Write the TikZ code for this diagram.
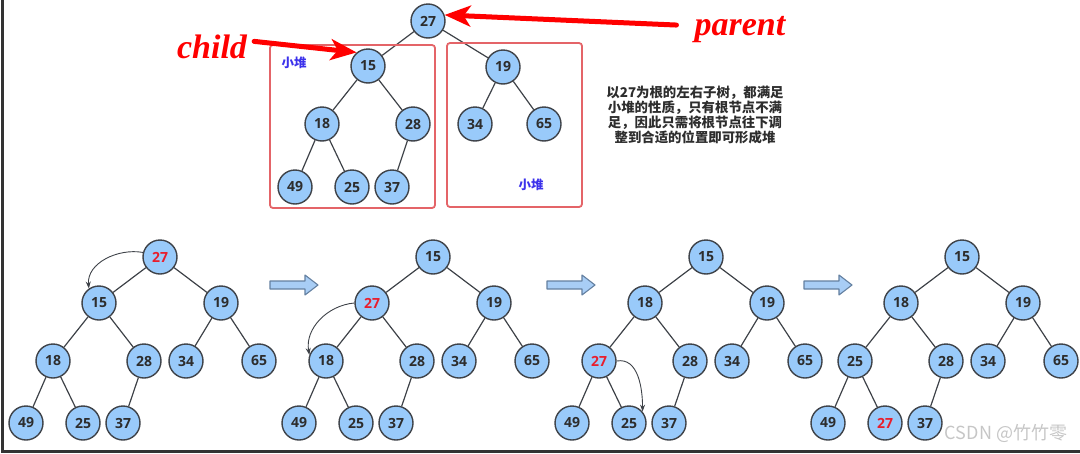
\documentclass[tikz,border=0pt]{standalone}
\usepackage{fontspec}
\setmainfont{Open Sans}
\newfontfamily\cjk{Noto Sans CJK SC}
\newfontfamily\tagfont{Liberation Serif}
\usetikzlibrary{arrows.meta}

\definecolor{keyfill}{RGB}{153,202,250}
\definecolor{keyedge}{RGB}{62,66,72}
\definecolor{hotred}{RGB}{232,30,45}
\definecolor{boxred}{RGB}{228,100,104}
\definecolor{heapblue}{RGB}{60,50,235}
\definecolor{notegray}{RGB}{45,45,45}
\definecolor{arrowfill}{RGB}{168,205,245}
\definecolor{arrowedge}{RGB}{100,128,160}
\newcommand{\hotkey}[1]{\textcolor{hotred}{#1}}

\begin{document}
\begin{tikzpicture}[
    x=1pt, y=-1pt,
    key/.style={circle, draw=keyedge, fill=keyfill, line width=1.4pt, minimum size=34pt, inner sep=0pt, text=notegray, font=\bfseries\fontsize{14}{14}\selectfont},
    link/.style={draw=keyedge, line width=1.2pt},
    swap/.style={-{Stealth[length=7pt,width=5pt]}, draw=keyedge, line width=0.9pt},
    tag/.style={text=red, inner sep=0pt, font=\tagfont\bfseries\itshape\fontsize{34}{34}\selectfont},
    redarr/.style={-{Stealth[length=26pt,width=21pt,inset=7pt]}, draw=red, line width=5pt, line cap=round},
    heapbox/.style={draw=boxred, line width=1.8pt, rounded corners=3pt},
    heaplbl/.style={text=heapblue, font=\cjk\bfseries\fontsize{12.5}{12.5}\selectfont},
    steparrow/.style={draw=arrowedge, fill=arrowfill, line width=1.1pt, line join=round},
    frame/.style={draw=black!80, line width=3pt}
]
\useasboundingbox (0,0) rectangle (1080,453);
\draw[frame] (2.5,0) -- (2.5,451) -- (1080,451);

% Starting tree
\node[key] (p27) at (428,21) {27};
\node[key] (p15) at (368,66) {15};
\node[key] (p19) at (503,67) {19};
\node[key] (p18) at (322,124) {18};
\node[key] (p28) at (413,124) {28};
\node[key] (p34) at (475,124) {34};
\node[key] (p65) at (544,124) {65};
\node[key] (p49) at (295,187) {49};
\node[key] (p25) at (352,187) {25};
\node[key] (p37) at (392,187) {37};
\draw[link] (p27) -- (p15);
\draw[link] (p27) -- (p19);
\draw[link] (p15) -- (p18);
\draw[link] (p15) -- (p28);
\draw[link] (p19) -- (p34);
\draw[link] (p19) -- (p65);
\draw[link] (p18) -- (p49);
\draw[link] (p18) -- (p25);
\draw[link] (p28) -- (p37);

% Sub-heaps
\draw[heapbox] (270,45) rectangle (435,208);
\draw[heapbox] (447,43) rectangle (582,207);
\node[heaplbl] (leftlbl) at (294,63) {小堆};
\node[heaplbl] (rightlbl) at (531,185) {小堆};

\node[tag, anchor=base] (child) at (212,58) {child};
\node[tag, anchor=base] (parent) at (740,35) {parent};
\draw[redarr] ([xshift=7pt,yshift=5pt]child.east) -- (p15.130);
\draw[redarr] ([xshift=-18pt,yshift=4pt]parent.west) -- (p27.20);

\node[text=notegray, align=center, font=\cjk\bfseries\fontsize{13.4}{15.3}\selectfont] (note) at (695,115)
  {以27为根的左右子树，都满足\\小堆的性质，只有根节点不满\\足，因此只需将根节点往下调\\整到合适的位置即可形成堆};

% Sift-down steps
\foreach \tr/\rx/\va/\vb/\vc/\vd/\ve/\vf/\vg/\vh/\vi/\vj in {
    1/160/\hotkey{27}/15/19/18/28/34/65/49/25/37,
    2/433/15/\hotkey{27}/19/18/28/34/65/49/25/37,
    3/706/15/18/19/\hotkey{27}/28/34/65/49/25/37,
    4/962/15/18/19/25/28/34/65/49/\hotkey{27}/37} {
  \node[key] (t\tr-1) at (\rx,257) {\va};
  \node[key] (t\tr-2) at (\rx-61,303) {\vb};
  \node[key] (t\tr-3) at (\rx+61,303) {\vc};
  \node[key] (t\tr-4) at (\rx-107,361) {\vd};
  \node[key] (t\tr-5) at (\rx-16,361) {\ve};
  \node[key] (t\tr-6) at (\rx+26,361) {\vf};
  \node[key] (t\tr-7) at (\rx+99,361) {\vg};
  \node[key] (t\tr-8) at (\rx-134,423) {\vh};
  \node[key] (t\tr-9) at (\rx-77,423) {\vi};
  \node[key] (t\tr-10) at (\rx-37,423) {\vj};
  \draw[link] (t\tr-1) -- (t\tr-2);
  \draw[link] (t\tr-1) -- (t\tr-3);
  \draw[link] (t\tr-2) -- (t\tr-4);
  \draw[link] (t\tr-2) -- (t\tr-5);
  \draw[link] (t\tr-3) -- (t\tr-6);
  \draw[link] (t\tr-3) -- (t\tr-7);
  \draw[link] (t\tr-4) -- (t\tr-8);
  \draw[link] (t\tr-4) -- (t\tr-9);
  \draw[link] (t\tr-5) -- (t\tr-10);
}
\draw[swap] (t1-1.165) to[out=170, in=95] (t1-2.125);
\draw[swap] (t2-2.west) to[out=185, in=100] (t2-4.160);
\draw[swap] (t3-4.east) to[out=10, in=90] (t3-9.40);

\foreach \ax in {270,547,804}
  \draw[steparrow] (\ax,281) -- ++(35,0) -- ++(0,-6) -- ++(13,10) -- ++(-13,10) -- ++(0,-6) -- ++(-35,0) -- cycle;

\node[text=gray!45, font=\cjk\fontsize{18}{18}\selectfont] (mark) at (1006,433) {CSDN @竹竹零};
\end{tikzpicture}
\end{document}
